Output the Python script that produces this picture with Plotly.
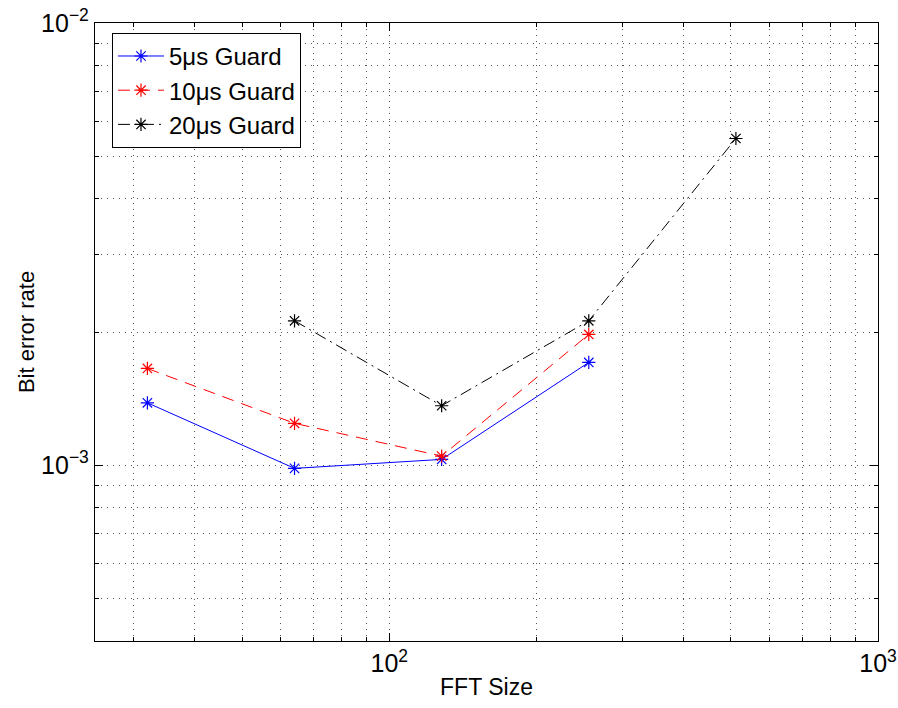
import plotly.graph_objects as go

# FFT sizes and measured bit error rates for each guard interval
fft_sizes_5 = [32, 64, 128, 256]
ber_5us = [1.383e-3, 0.983e-3, 1.030e-3, 1.707e-3]

fft_sizes_10 = [32, 64, 128, 256]
ber_10us = [1.654e-3, 1.243e-3, 1.048e-3, 1.975e-3]

fft_sizes_20 = [64, 128, 256, 512]
ber_20us = [2.120e-3, 1.362e-3, 2.120e-3, 5.48e-3]

x_major = [100, 1000]
x_major_text = ["10<sup>2</sup>", "10<sup>3</sup>"]
x_minor = [30, 40, 50, 60, 70, 80, 90, 200, 300, 400, 500, 600, 700, 800, 900]
y_major = [1e-3, 1e-2]
y_major_text = ["10<sup>−3</sup>", "10<sup>−2</sup>"]
y_minor = [4e-4, 5e-4, 6e-4, 7e-4, 8e-4, 9e-4,
           2e-3, 3e-3, 4e-3, 5e-3, 6e-3, 7e-3, 8e-3, 9e-3]

FONT = "Liberation Sans, Arial, sans-serif"

fig = go.Figure()
series = [
    ("5μs Guard", fft_sizes_5, ber_5us, "#0000ff", "solid"),
    ("10μs Guard", fft_sizes_10, ber_10us, "#ff0000", "12px,8px"),
    ("20μs Guard", fft_sizes_20, ber_20us, "#000000", "12px,5px,2px,5px"),
]
for name, xs, ys, color, dash in series:
    fig.add_trace(go.Scatter(
        x=xs, y=ys, name=name, mode="lines+markers",
        line=dict(color=color, width=1, dash=dash),
        marker=dict(symbol="asterisk-open", size=11, color=color,
                    line=dict(color=color, width=1.2)),
    ))

grid_style = dict(showgrid=True, gridcolor="#555555", gridwidth=1,
                  griddash="1px,5px")

fig.update_xaxes(
    type="log", range=[1.39794, 3.0], automargin=False,
    tickmode="array", tickvals=x_major, ticktext=x_major_text,
    ticks="inside", ticklen=8, tickwidth=1, tickcolor="black",
    showline=True, linecolor="black", linewidth=1.3, mirror="ticks",
    zeroline=False,
    minor=dict(tickmode="array", tickvals=x_minor, ticks="inside",
               ticklen=4, tickcolor="black", **grid_style),
    tickfont=dict(family=FONT, size=25, color="black"),
    title=dict(text="FFT Size", font=dict(family=FONT, size=23, color="black"),
               standoff=2),
    **grid_style,
)
fig.update_yaxes(
    type="log", range=[-3.39794, -2.0], automargin=False,
    tickmode="array", tickvals=y_major, ticktext=y_major_text,
    ticks="inside", ticklen=8, tickwidth=1, tickcolor="black",
    showline=True, linecolor="black", linewidth=1.3, mirror="ticks",
    zeroline=False,
    minor=dict(tickmode="array", tickvals=y_minor, ticks="inside",
               ticklen=4, tickcolor="black", **grid_style),
    tickfont=dict(family=FONT, size=25, color="black"),
    title=dict(text="Bit error rate", font=dict(family=FONT, size=22, color="black"),
               standoff=0),
    **grid_style,
)

fig.update_layout(
    width=898, height=708,
    margin=dict(l=95, r=20, t=23, b=67),
    paper_bgcolor="white", plot_bgcolor="white",
    font=dict(family=FONT, size=22, color="black"),
    legend=dict(
        x=0.0217, y=0.984, xanchor="left", yanchor="top",
        bgcolor="white", bordercolor="black", borderwidth=1,
        font=dict(family=FONT, size=24, color="black"),
        tracegroupgap=0, itemwidth=46,
    ),
    showlegend=True,
)

fig.write_html("out.html")
